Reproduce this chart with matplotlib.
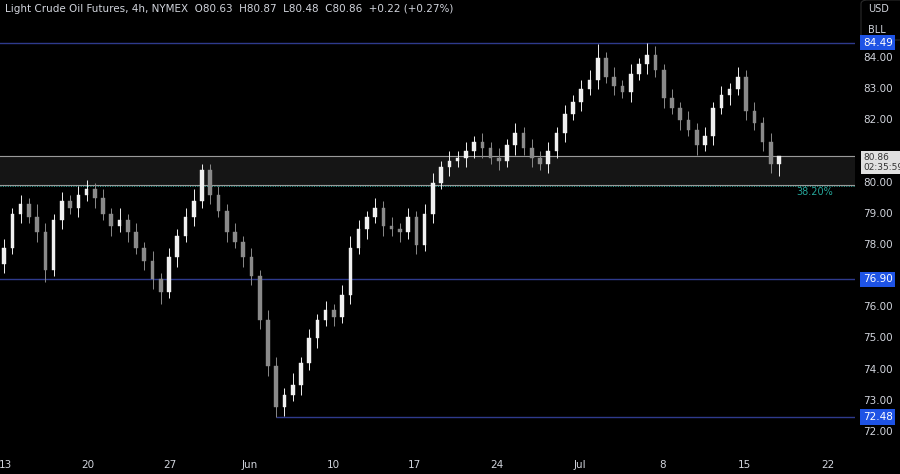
import numpy as np
import matplotlib.pyplot as plt
from matplotlib.patches import Rectangle, FancyBboxPatch

# 12h-ish candles (close values)
closes = [77.9, 79.0, 79.3, 78.9, 78.4, 77.2, 78.8, 79.4, 79.2, 79.6,
          79.8, 79.5, 79.0, 78.6, 78.8, 78.4, 77.9, 77.5, 76.9, 76.5,
          77.6, 78.3, 78.9, 79.4, 80.4, 79.6, 79.1, 78.4, 78.1, 77.6,
          77.0, 75.6, 74.1, 72.8, 73.2, 73.5, 74.2, 75.0, 75.6, 75.9,
          75.7, 76.4, 77.9, 78.5, 78.9, 79.2, 78.6, 78.5, 78.4, 78.9,
          78.0, 79.0, 80.0, 80.5, 80.7, 80.8, 81.0, 81.3, 81.1, 80.8,
          80.7, 81.2, 81.6, 81.1, 80.8, 80.6, 81.0, 81.6, 82.2, 82.6,
          83.0, 83.3, 84.0, 83.4, 83.1, 82.9, 83.5, 83.8, 84.1, 83.6,
          82.7, 82.4, 82.0, 81.7, 81.2, 81.5, 82.4, 82.8, 83.0, 83.4,
          82.3, 81.9, 81.3, 80.6, 80.86]
wick_up = [0.3, 0.2, 0.3, 0.2, 0.4, 0.3, 0.2, 0.3, 0.2, 0.3,
           0.3, 0.2, 0.3, 0.2, 0.4, 0.2, 0.3, 0.2, 0.3, 0.2,
           0.3, 0.2, 0.3, 0.4, 0.2, 0.2, 0.3, 0.2, 0.3, 0.2,
           0.3, 0.2, 0.3, 0.3, 0.2, 0.4, 0.2, 0.3, 0.2, 0.3,
           0.2, 0.3, 0.4, 0.3, 0.2, 0.3, 0.2, 0.3, 0.2, 0.3,
           0.2, 0.3, 0.3, 0.2, 0.3, 0.2, 0.3, 0.2, 0.3, 0.2,
           0.3, 0.2, 0.3, 0.2, 0.3, 0.2, 0.3, 0.2, 0.3, 0.2,
           0.3, 0.3, 0.45, 0.2, 0.3, 0.2, 0.3, 0.2, 0.39, 0.3,
           0.2, 0.3, 0.2, 0.3, 0.2, 0.3, 0.2, 0.3, 0.2, 0.3,
           0.2, 0.3, 0.2, 0.3, 0.01]
wick_dn = [0.3, 0.2, 0.3, 0.2, 0.3, 0.4, 0.2, 0.3, 0.2, 0.3,
           0.2, 0.3, 0.2, 0.3, 0.2, 0.3, 0.2, 0.3, 0.3, 0.4,
           0.2, 0.3, 0.2, 0.3, 0.2, 0.3, 0.2, 0.3, 0.2, 0.3,
           0.3, 0.3, 0.3, 0.32, 0.3, 0.2, 0.3, 0.2, 0.3, 0.2,
           0.3, 0.2, 0.3, 0.2, 0.3, 0.2, 0.3, 0.2, 0.3, 0.2,
           0.3, 0.2, 0.3, 0.2, 0.3, 0.2, 0.3, 0.2, 0.3, 0.2,
           0.3, 0.2, 0.3, 0.2, 0.3, 0.2, 0.3, 0.2, 0.3, 0.2,
           0.3, 0.2, 0.3, 0.2, 0.3, 0.2, 0.3, 0.2, 0.3, 0.2,
           0.3, 0.2, 0.3, 0.2, 0.3, 0.2, 0.3, 0.2, 0.3, 0.2,
           0.3, 0.2, 0.3, 0.3, 0.38]
first_open = 77.4

date_labels = ["13", "20", "27", "Jun", "10", "17", "24", "Jul", "8", "15", "22"]
date_pos = [0.1, 10.2, 20.1, 29.8, 39.9, 49.8, 59.8, 69.8, 79.9, 89.8, 99.9]
price_ticks = [72.0, 73.0, 74.0, 75.0, 76.0, 78.0, 79.0, 80.0, 82.0, 83.0, 84.0]
levels = [84.49, 76.90, 72.48]
zone_top, zone_bot = 80.86, 79.93
fib_level = 79.90

W, H = 900, 474
fig = plt.figure(figsize=(9, 4.74), dpi=100, facecolor="black")
ax = fig.add_axes([0, 19 / H, 855 / W, 455 / H])
ax.set_facecolor("black")
ax.set_xlim(-0.5, 103.2)
ax.set_ylim(71.26, 85.86)
for s in ax.spines.values():
    s.set_visible(False)
ax.set_xticks([]); ax.set_yticks([])

# support/resistance zone
ax.add_patch(Rectangle((-1, zone_bot), 110, zone_top - zone_bot, color="#151515", zorder=0))
ax.axhline(zone_top, color="#9a9a9a", lw=0.8, zorder=1)
ax.axhline(zone_bot, color="#9a9a9a", lw=0.8, zorder=1)
ax.axhline(fib_level, color="#26a69a", lw=0.7, ls=(0, (1, 1.5)), zorder=1)
ax.text(100.5, fib_level - 0.05, "38.20%", color="#26a69a", fontsize=7, ha="right", va="top")

ax.axhline(levels[0], color="#2e3a8c", lw=1)
ax.axhline(levels[1], color="#2e3a8c", lw=1)
ax.hlines(levels[2], 33, 110, color="#2e3a8c", lw=1)

opens = [first_open] + closes[:-1]
for i, (o, c) in enumerate(zip(opens, closes)):
    hi = max(o, c) + wick_up[i]
    lo = min(o, c) - wick_dn[i]
    col = "#f0f0f0" if c >= o else "#8a8a8a"
    ax.vlines(i, lo, hi, color=col, lw=0.7, zorder=3)
    ax.add_patch(Rectangle((i - 0.22, min(o, c)), 0.44, max(abs(c - o), 0.03),
                           facecolor=col, edgecolor=col, lw=0.3, zorder=4))


def yfrac(p):
    return ax.transData.transform((0, p))[1] / fig.dpi / 4.74


# right price scale
fx = 863 / W
for p in price_ticks:
    fig.text(fx, yfrac(p), f"{p:.2f}", color="#d1d4dc", fontsize=7.5, va="center")
for p in levels:
    fig.text(fx, yfrac(p), f"{p:.2f}", color="white", fontsize=7.5, va="center",
             bbox=dict(boxstyle="square,pad=0.25", fc="#1e53e5", ec="none"))
fig.text(fx, yfrac(zone_top) - 0.014, f"{zone_top:.2f}\n02:35:59", color="#333333", fontsize=6.5,
         va="center", linespacing=1.1,
         bbox=dict(boxstyle="square,pad=0.2", fc="#e0e0e0", ec="none"))

# date axis
for lab, pos in zip(date_labels, date_pos):
    xf = ax.transData.transform((pos, 0))[0] / fig.dpi / 9
    fig.text(xf, 4 / H, lab, color="#d1d4dc", fontsize=7.5, ha="center", va="bottom")

fig.text(5 / W, 1 - 9 / H, "Light Crude Oil Futures, 4h, NYMEX  O80.63  H80.87  L80.48  C80.86  +0.22 (+0.27%)",
         color="#d1d4dc", fontsize=7.5, va="center")
fig.patches.append(FancyBboxPatch((861 / W, 1 - 40 / H), 45 / W, 40 / H,
                                  boxstyle="round,pad=0,rounding_size=0.008",
                                  transform=fig.transFigure, fc="black", ec="#2a2a2a", lw=0.8))
fig.text(868 / W, 1 - 9 / H, "USD", color="#d1d4dc", fontsize=7, va="center")
fig.text(868 / W, 1 - 30 / H, "BLL", color="#d1d4dc", fontsize=7, va="center")

fig.savefig("out.png", dpi=100, facecolor="black")
